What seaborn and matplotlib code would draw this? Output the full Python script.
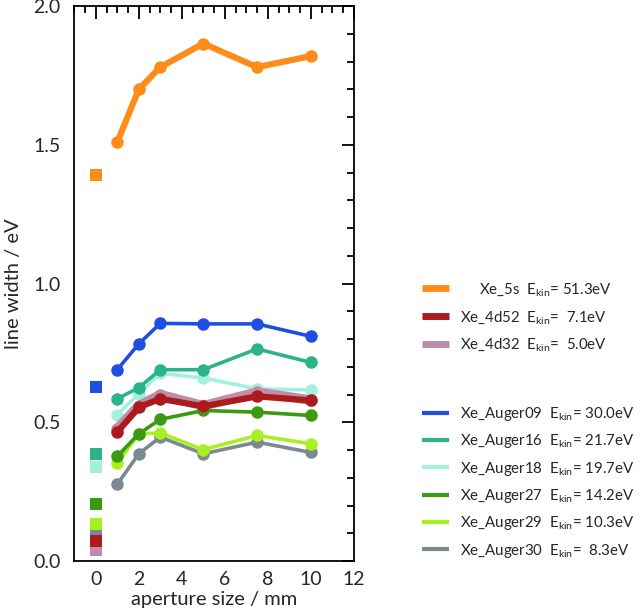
import matplotlib
matplotlib.use("Agg")
import matplotlib.pyplot as plt
from matplotlib.lines import Line2D
from matplotlib.ticker import MultipleLocator, FormatStrFormatter
import pandas as pd
import seaborn as sns

# aperture sizes (mm) for the circle series
aperture = [1, 2, 3, 5, 7.5, 10]

# line widths (eV)
xe_5s = [1.51, 1.70, 1.78, 1.865, 1.78, 1.82]
xe_4d52 = [0.465, 0.555, 0.585, 0.558, 0.594, 0.579]
xe_4d32 = [0.477, 0.56, 0.60, 0.56, 0.609, 0.58]
auger09 = [0.69, 0.783, 0.857, 0.855, 0.855, 0.81]
auger16 = [0.585, 0.625, 0.69, 0.69, 0.765, 0.716]
auger18 = [0.528, 0.603, 0.677, 0.66, 0.621, 0.617]
auger27 = [0.378, 0.459, 0.511, 0.543, 0.537, 0.525]
auger29 = [0.354, 0.459, 0.462, 0.402, 0.453, 0.423]
auger30 = [0.277, 0.387, 0.447, 0.387, 0.429, 0.392]

# values at aperture 0 (square markers)
zero_values = {
    "Xe_5s": 1.393, "Xe_4d52": 0.073, "Xe_4d32": 0.04,
    "Xe_Auger09": 0.627, "Xe_Auger16": 0.387, "Xe_Auger18": 0.34,
    "Xe_Auger27": 0.2075, "Xe_Auger29": 0.133, "Xe_Auger30": 0.105,
}

names = ["Xe_5s", "Xe_4d52", "Xe_4d32", "Xe_Auger09", "Xe_Auger16",
         "Xe_Auger18", "Xe_Auger27", "Xe_Auger29", "Xe_Auger30"]
ekin = ["51.3", " 7.1", " 5.0", "30.0", "21.7", "19.7", "14.2", "10.3", " 8.3"]
series = [xe_5s, xe_4d52, xe_4d32, auger09, auger16, auger18, auger27, auger29, auger30]

colors = {
    "Xe_5s": "#ff8c1a", "Xe_4d52": "#ac1a1e", "Xe_4d32": "#c08ca8",
    "Xe_Auger09": "#1f4fe0", "Xe_Auger16": "#2db38a", "Xe_Auger18": "#a4f0dc",
    "Xe_Auger27": "#3a9a12", "Xe_Auger29": "#a8f022", "Xe_Auger30": "#7a8a90",
}
lw = {"Xe_5s": 4.5, "Xe_4d52": 4.5, "Xe_4d32": 7}

sns.set_style("white")
plt.rcParams["font.family"] = ["Lato", "DejaVu Sans"]
plt.rcParams["mathtext.fontset"] = "custom"
plt.rcParams["mathtext.rm"] = "Lato"
plt.rcParams["mathtext.it"] = "Lato:italic"

df = pd.DataFrame({"aperture": aperture * len(names),
                   "width": sum(series, []),
                   "line": [n for n in names for _ in aperture]})
zero_df = pd.DataFrame({"aperture": [0] * len(names),
                        "width": [zero_values[n] for n in names],
                        "line": names})

fig = plt.figure(figsize=(6.4, 6.1), dpi=100)
ax = fig.add_axes([0.116, 0.080, 0.437, 0.910])

draw_order = ["Xe_Auger30", "Xe_Auger29", "Xe_Auger27", "Xe_Auger18", "Xe_Auger16",
              "Xe_Auger09", "Xe_4d32", "Xe_4d52", "Xe_5s"]
for z, n in enumerate(draw_order):
    sub = df[df["line"] == n]
    sns.lineplot(data=sub, x="aperture", y="width", color=colors[n], lw=lw.get(n, 2.6),
                 marker="o", markersize=9, markeredgewidth=0, ax=ax, zorder=3 + z)
    s = zero_df[zero_df["line"] == n]
    sns.scatterplot(data=s, x="aperture", y="width", color=colors[n], marker="s",
                    s=75, linewidth=0, ax=ax, zorder=3 + z)

ax.set_xlim(-1, 12)
ax.set_ylim(0, 2.0)
ax.xaxis.set_major_locator(MultipleLocator(2))
ax.xaxis.set_minor_locator(MultipleLocator(0.5))
ax.yaxis.set_major_locator(MultipleLocator(0.5))
ax.yaxis.set_minor_locator(MultipleLocator(0.1))
ax.yaxis.set_major_formatter(FormatStrFormatter("%.1f"))
ax.tick_params(which="both", direction="in", top=True, right=True, width=1.3,
               color="black", labelsize=14)
ax.tick_params(which="major", length=9)
ax.tick_params(which="minor", length=5)
ax.tick_params(axis="x", which="major", pad=7)
ax.tick_params(axis="y", which="major", pad=10)
for sp in ax.spines.values():
    sp.set_color("black")
    sp.set_linewidth(1.3)
ax.set_xlabel("aperture size / mm", fontsize=14.5, labelpad=2)
ax.set_ylabel("line width / eV", fontsize=14.5, labelpad=8)


def label(i):
    return f"{names[i]}  " + r"$\mathrm{E_{kin}}$" + f"= {ekin[i]}eV"


leg_kw = dict(loc="upper left", frameon=False, fontsize=10.8, handlelength=1.75,
              handletextpad=0.78, borderpad=0, borderaxespad=0)
h1 = [Line2D([], [], color=colors[names[i]], lw=5, solid_capstyle="butt") for i in range(3)]
l1 = ["     " + label(0), label(1), label(2)]
fig.legend(h1, l1, bbox_to_anchor=(0.66, 0.539), labelspacing=0.72, **leg_kw)
h2 = [Line2D([], [], color=colors[names[i]], lw=3, solid_capstyle="butt") for i in range(3, 9)]
l2 = [label(i) for i in range(3, 9)]
fig.legend(h2, l2, bbox_to_anchor=(0.66, 0.336), labelspacing=0.62, **leg_kw)

fig.savefig("out.png", dpi=100)
